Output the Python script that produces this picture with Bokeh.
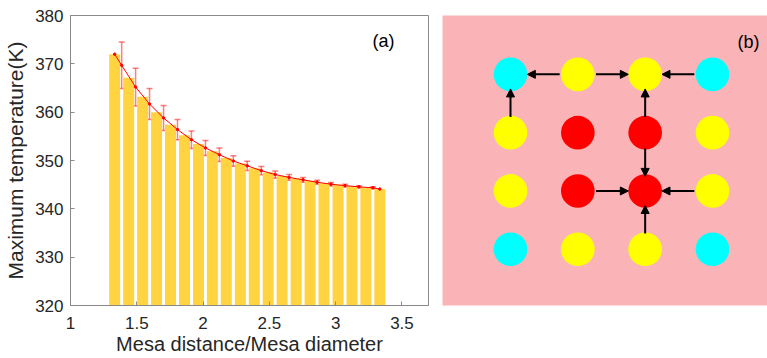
from bokeh.plotting import figure
from bokeh.models import (ColumnDataSource, Range1d, FixedTicker, NumeralTickFormatter,
                          Whisker, TeeHead, Label, Arrow, NormalHead)
from bokeh.layouts import row
from bokeh.embed import file_html
from bokeh.resources import INLINE

# ---------------- data: panel (a) ----------------
bar_x = [1.333, 1.439, 1.544, 1.649, 1.754, 1.860, 1.965, 2.070, 2.175, 2.281,
         2.386, 2.491, 2.596, 2.702, 2.807, 2.912, 3.018, 3.123, 3.228, 3.333]
bar_t = [372.0, 367.1, 363.2, 360.0, 357.4, 355.2, 353.4, 351.9, 350.5, 349.4,
         348.4, 347.5, 346.8, 346.3, 345.8, 345.3, 345.0, 344.7, 344.4, 344.1]
err_x = [1.386, 1.491, 1.596, 1.702, 1.807, 1.912, 2.018, 2.123, 2.228, 2.333,
         2.439, 2.544, 2.649, 2.754, 2.860, 2.965, 3.070, 3.175, 3.281]
err_t = [369.7, 365.2, 361.7, 358.8, 356.4, 354.3, 352.6, 351.2, 349.9, 348.9,
         347.9, 347.1, 346.5, 346.0, 345.5, 345.1, 344.8, 344.55, 344.35]
err_d = [4.8, 3.9, 3.2, 2.6, 2.1, 1.8, 1.55, 1.4, 1.1, 0.95,
         0.85, 0.75, 0.6, 0.5, 0.4, 0.35, 0.3, 0.25, 0.2]
x_ticks = [1, 1.5, 2, 2.5, 3, 3.5]
y_ticks = [320, 330, 340, 350, 360, 370, 380]

# ---------------- data: panel (b) ----------------
grid_rows = [1, 1, 1, 1, 2, 2, 2, 2, 3, 3, 3, 3, 4, 4, 4, 4]
grid_cols = [1, 2, 3, 4, 1, 2, 3, 4, 1, 2, 3, 4, 1, 2, 3, 4]
grid_colors = ["#00FFFF", "#FFFF00", "#FFFF00", "#00FFFF",
               "#FFFF00", "#FF0000", "#FF0000", "#FFFF00",
               "#FFFF00", "#FF0000", "#FF0000", "#FFFF00",
               "#00FFFF", "#FFFF00", "#FFFF00", "#00FFFF"]
# arrows: (from_row, from_col) -> (to_row, to_col)
arrow_from_row = [1, 1, 1, 2, 2, 2, 3, 3, 4]
arrow_from_col = [2, 2, 4, 1, 3, 3, 2, 4, 3]
arrow_to_row = [1, 1, 1, 1, 1, 3, 3, 3, 3]
arrow_to_col = [1, 3, 3, 1, 3, 3, 3, 3, 3]

FONT = "Liberation Sans"
AXIS_GREY = "#8a8a8a"
TEXT_DARK = "#262626"

# ---------------- panel (a) ----------------
p = figure(width=442, height=358, output_backend="svg", toolbar_location=None,
           x_range=Range1d(1, 3.7), y_range=Range1d(320, 380),
           min_border_left=70, min_border_right=14, min_border_top=15,
           min_border_bottom=53)
p.background_fill_color = "white"
p.border_fill_color = "white"
p.xgrid.visible = False
p.ygrid.visible = False
p.outline_line_color = AXIS_GREY
p.outline_line_width = 1

p.vbar(x=bar_x, top=bar_t, bottom=0, width=0.083, fill_color="#FFD440",
       line_color=None)

src_err = ColumnDataSource(dict(x=err_x, y=err_t,
                                lo=[t - d for t, d in zip(err_t, err_d)],
                                hi=[t + d for t, d in zip(err_t, err_d)]))
wh = Whisker(source=src_err, base="x", upper="hi", lower="lo",
             line_color="#FF0000", line_alpha=0.5, line_width=1.5,
             upper_head=TeeHead(size=6, line_color="#FF0000", line_alpha=0.5, line_width=1.5),
             lower_head=TeeHead(size=6, line_color="#FF0000", line_alpha=0.5, line_width=1.5))
p.add_layout(wh)

line_x = [bar_x[0]] + err_x + [bar_x[-1]]
line_t = [bar_t[0]] + err_t + [bar_t[-1]]
p.line(line_x, line_t, line_color="#FF0000", line_width=1)
p.scatter(line_x, line_t, size=2.5, fill_color="#FF0000", line_color="#FF0000")

for ax in (p.xaxis[0], p.yaxis[0]):
    ax.axis_line_color = AXIS_GREY
    ax.major_tick_line_color = AXIS_GREY
    ax.major_tick_in = 4
    ax.major_tick_out = 0
    ax.minor_tick_line_color = None
    ax.major_label_text_font = FONT
    ax.major_label_text_font_size = "17px"
    ax.major_label_text_color = TEXT_DARK
    ax.axis_label_text_font = FONT
    ax.axis_label_text_font_style = "normal"
    ax.axis_label_text_color = TEXT_DARK

p.xaxis[0].ticker = FixedTicker(ticks=x_ticks)
p.xaxis[0].formatter = NumeralTickFormatter(format="0.[0]")
p.xaxis[0].axis_label = "Mesa distance/Mesa diameter"
p.xaxis[0].axis_label_text_font_size = "20px"
p.xaxis[0].major_label_standoff = 11
p.xaxis[0].axis_label_standoff = 1

p.yaxis[0].ticker = FixedTicker(ticks=y_ticks)
p.yaxis[0].axis_label = "Maximum temperature(K)"
p.yaxis[0].axis_label_text_font_size = "21px"
p.yaxis[0].major_label_standoff = 7
p.yaxis[0].axis_label_standoff = 5

p.add_layout(Label(x=3.36, y=374.7, text="(a)", text_font=FONT,
                   text_font_size="18px", text_color="black",
                   text_align="center", text_baseline="middle"))

# ---------------- panel (b) ----------------
q = figure(width=325, height=358, output_backend="svg", toolbar_location=None,
           x_range=Range1d(-0.01, 4.817), y_range=Range1d(0.035, 5.01),
           min_border_left=0, min_border_right=0, min_border_top=8,
           min_border_bottom=15)
q.axis.visible = False
q.xgrid.visible = False
q.ygrid.visible = False
q.outline_line_color = None
q.background_fill_color = "#FAB4B7"
q.border_fill_color = "white"

R = 0.25
q.circle(x=grid_cols, y=[5 - r for r in grid_rows], radius=R,
         fill_color=grid_colors, line_color=None)

xs, ys, xe, ye = [], [], [], []
for fr, fc, tr, tc in zip(arrow_from_row, arrow_from_col, arrow_to_row, arrow_to_col):
    x0, y0 = fc, 5 - fr
    x1, y1 = tc, 5 - tr
    dx, dy = x1 - x0, y1 - y0
    n = (dx * dx + dy * dy) ** 0.5
    ux, uy = dx / n, dy / n
    xs.append(x0 + ux * (R + 0.02))
    ys.append(y0 + uy * (R + 0.02))
    xe.append(x1 - ux * R)
    ye.append(y1 - uy * R)
src_arr = ColumnDataSource(dict(xs=xs, ys=ys, xe=xe, ye=ye))
q.add_layout(Arrow(source=src_arr, x_start="xs", y_start="ys", x_end="xe", y_end="ye",
                   line_color="black", line_width=2,
                   end=NormalHead(size=8, fill_color="black", line_color="black", line_width=1)))

q.add_layout(Label(x=4.535, y=4.55, text="(b)", text_font=FONT,
                   text_font_size="18px", text_color="black",
                   text_align="center", text_baseline="middle"))

layout = row(p, q, spacing=0)
open("out.html", "w").write(file_html(layout, INLINE))
